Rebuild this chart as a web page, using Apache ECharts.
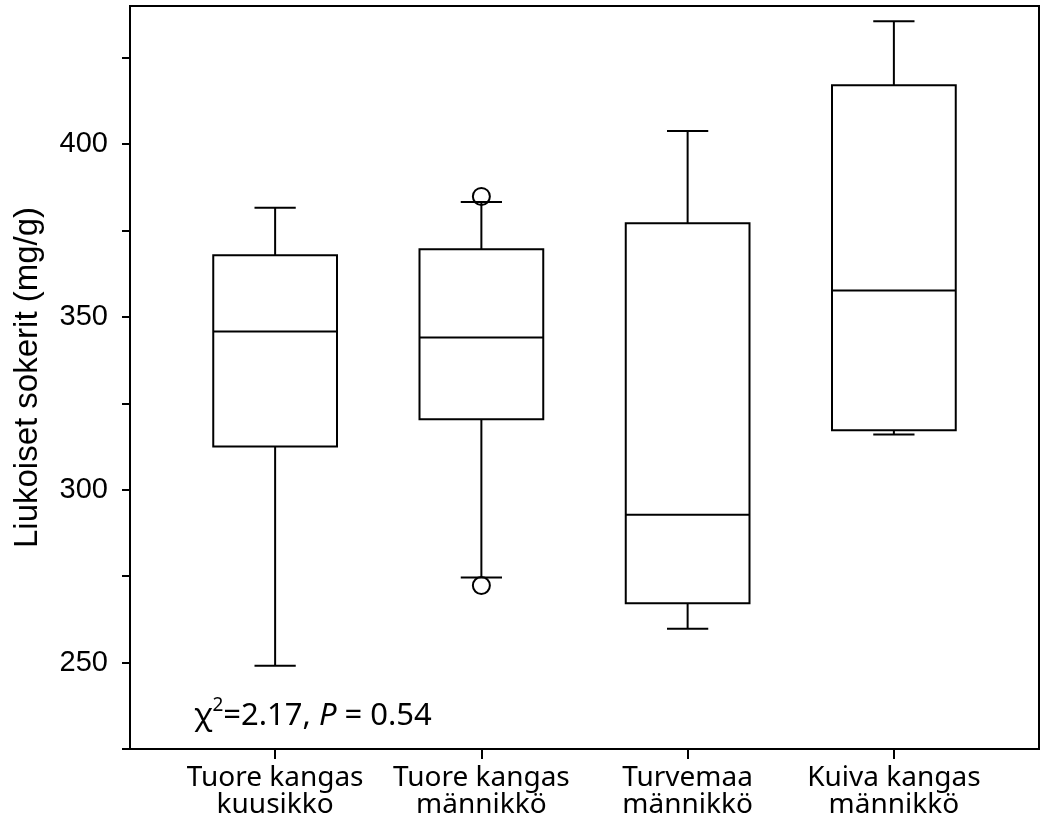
<!DOCTYPE html>
<html>
<head>
<meta charset="utf-8">
<script src="https://cdn.jsdelivr.net/npm/echarts@6/dist/echarts.min.js"></script>
<style>html,body{margin:0;padding:0;background:#fff;}#c{width:1049px;height:824px;}</style>
</head>
<body>
<div id="c"></div>
<script>
var categories = ['Tuore kangas\nkuusikko', 'Tuore kangas\nmännikkö', 'Turvemaa\nmännikkö', 'Kuiva kangas\nmännikkö'];
var whiskerLow = [249.1, 274.6, 259.8, 316.0];
var q1 = [312.5, 320.4, 267.2, 317.2];
var median = [345.8, 344.1, 292.8, 357.7];
var q3 = [367.9, 369.6, 377.1, 417.1];
var whiskerHigh = [381.6, 383.3, 403.8, 435.6];
var outliers = [[1, 384.9], [1, 272.3]];
var yTicks = [225, 250, 275, 300, 325, 350, 375, 400, 425];
var yTickLabels = [250, 300, 350, 400];
var yMin = 225, yMax = 440;

var boxData = categories.map(function (c, i) {
  return [i, whiskerLow[i], q1[i], median[i], q3[i], whiskerHigh[i]];
});

var chart = echarts.init(document.getElementById('c'), null, {renderer: 'canvas'});
var option = {
  backgroundColor: '#fff',
  animation: false,
  graphic: [{
    type: 'text', left: 194, top: 696, z: 10,
    style: {
      text: '{a|χ}{s|2}{a|=2.17, }{i|P}{a| = 0.54}',
      fill: '#000',
      rich: {
        a: {fontFamily: 'Noto Sans', fontSize: 31, fontWeight: 'normal', fill: '#000', lineHeight: 40},
        i: {fontFamily: 'Noto Sans', fontSize: 31, fontWeight: 'normal', fontStyle: 'italic', fill: '#000', lineHeight: 40},
        s: {fontFamily: 'Noto Sans', fontSize: 19, fontWeight: 'normal', fill: '#000', verticalAlign: 'top', lineHeight: 28}
      }
    }
  }],
  grid: [
    {left: 130, right: 10, top: 6, bottom: 75, show: true, borderColor: '#000', borderWidth: 2, backgroundColor: 'transparent'},
    {left: 172, right: 52, top: 6, bottom: 75}
  ],
  xAxis: [
    {type: 'value', gridIndex: 0, min: 0, max: 1, show: false},
    {
      type: 'category', gridIndex: 1, data: categories, boundaryGap: true,
      axisLine: {show: false},
      axisTick: {show: true, alignWithLabel: true, length: 10, lineStyle: {color: '#000', width: 2}},
      axisLabel: {color: '#000', fontFamily: 'Noto Sans', fontSize: 28, lineHeight: 27, margin: 16, interval: 0}
    }
  ],
  yAxis: [
    {
      type: 'value', gridIndex: 0, min: yMin, max: yMax,
      name: 'Liukoiset sokerit (mg/g)', nameLocation: 'middle', nameGap: 86,
      nameTextStyle: {fontFamily: 'Liberation Sans', fontSize: 33, color: '#000'},
      splitLine: {show: false},
      axisLine: {show: true, lineStyle: {color: '#000', width: 2}},
      axisTick: {show: true, length: 8, customValues: yTicks, lineStyle: {color: '#000', width: 2}},
      axisLabel: {customValues: yTickLabels, color: '#000', fontFamily: 'Liberation Sans', fontSize: 29, margin: 22}
    },
    {type: 'value', gridIndex: 1, min: yMin, max: yMax, show: false}
  ],
  series: [
    {
      type: 'custom', xAxisIndex: 1, yAxisIndex: 1,
      data: boxData,
      encode: {x: 0, y: [1, 2, 3, 4, 5]},
      renderItem: function (params, api) {
        var x = api.value(0);
        var lo = api.coord([x, api.value(1)]);
        var b1 = api.coord([x, api.value(2)]);
        var md = api.coord([x, api.value(3)]);
        var b3 = api.coord([x, api.value(4)]);
        var hi = api.coord([x, api.value(5)]);
        var band = api.size([1, 0])[0];
        var bw = band * 0.6, cw = band * 0.2;
        var cx = lo[0];
        var st = {stroke: '#000', lineWidth: 2, fill: null};
        return {
          type: 'group',
          children: [
            {type: 'line', shape: {x1: cx, y1: hi[1], x2: cx, y2: b3[1]}, style: st},
            {type: 'line', shape: {x1: cx - cw / 2, y1: hi[1], x2: cx + cw / 2, y2: hi[1]}, style: st},
            {type: 'line', shape: {x1: cx, y1: b1[1], x2: cx, y2: lo[1]}, style: st},
            {type: 'line', shape: {x1: cx - cw / 2, y1: lo[1], x2: cx + cw / 2, y2: lo[1]}, style: st},
            {type: 'rect', shape: {x: cx - bw / 2, y: b3[1], width: bw, height: b1[1] - b3[1]}, style: {stroke: '#000', lineWidth: 2, fill: 'transparent'}},
            {type: 'line', shape: {x1: cx - bw / 2, y1: md[1], x2: cx + bw / 2, y2: md[1]}, style: st}
          ]
        };
      }
    },
    {
      type: 'scatter', xAxisIndex: 1, yAxisIndex: 1,
      data: outliers, symbol: 'circle', symbolSize: 17,
      itemStyle: {color: 'transparent', borderColor: '#000', borderWidth: 2, opacity: 1}
    }
  ]
};
chart.setOption(option);
</script>
</body>
</html>
